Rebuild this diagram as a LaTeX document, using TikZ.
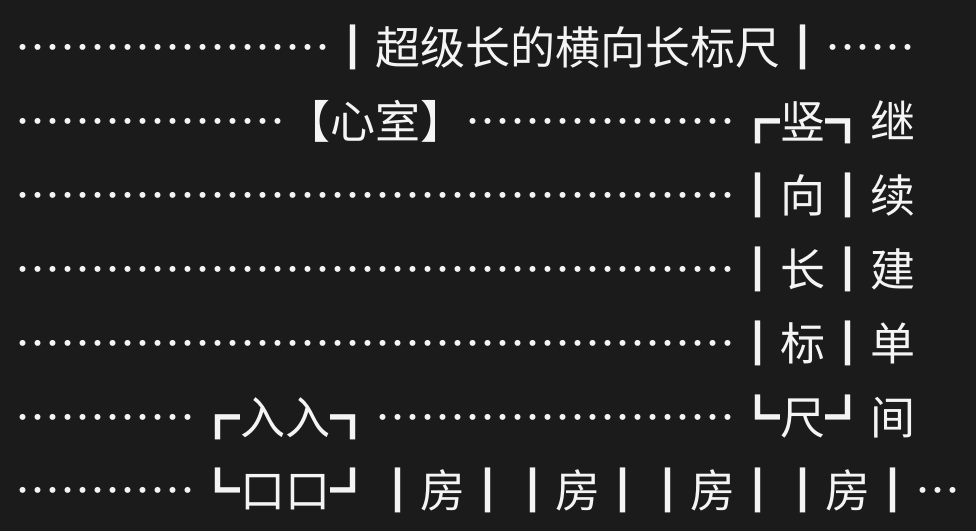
\documentclass[tikz,border=0pt]{standalone}
\usepackage{fontspec}
\newfontfamily\cjk[Script=CJK, Language=Chinese Simplified, CharacterWidth=Full]{Noto Sans CJK SC}
\definecolor{bg}{HTML}{1B1B1B}
\definecolor{fg}{HTML}{F4F4F4}
\newlength\cw \setlength\cw{45pt}
\def\cells#1{\cellsi#1\relax}
\def\cellsi#1{\ifx#1\relax\else\makebox[\cw][c]{#1}\expandafter\cellsi\fi}
\begin{document}
\begin{tikzpicture}[x=1pt,y=1pt,
  rowtext/.style={anchor=base west, inner sep=0pt, outer sep=0pt, text=fg,
    font=\cjk\fontsize{45pt}{45pt}\selectfont}]
\fill[bg] (0,0) rectangle (976,531);
\useasboundingbox (0,0) rectangle (976,531);
\node[rowtext] (l1) at (15,466.5) {\cells{…… …… …… … ┃超级长的横向长标尺┃ ……}};
\node[rowtext] (l2) at (15,392.6) {\cells{…… …… …… 【心室】 …… …… …… ┏竖┓继}};
\node[rowtext] (l3) at (15,318.7) {\cells{…… …… …… …… …… …… …… …… ┃向┃续}};
\node[rowtext] (l4) at (15,244.8) {\cells{…… …… …… …… …… …… …… …… ┃长┃建}};
\node[rowtext] (l5) at (15,170.9) {\cells{…… …… …… …… …… …… …… …… ┃标┃单}};
\node[rowtext] (l6) at (15,97.0) {\cells{…… …… ┏入入┓ …… …… …… …… ┗尺┛间}};
\node[rowtext] (l7) at (15,23.1) {\cells{…… …… ┗口口┛ ┃房┃ ┃房┃ ┃房┃ ┃房┃ …}};
\end{tikzpicture}
\end{document}
